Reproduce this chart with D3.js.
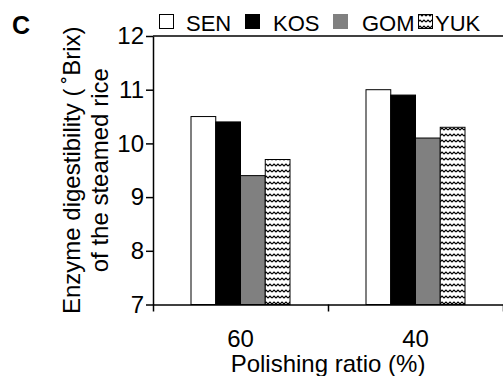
<!DOCTYPE html>
<html>
<head>
<meta charset="utf-8">
<script src="https://cdn.jsdelivr.net/npm/d3@7"></script>
<style>
  body { margin: 0; background: #fff; }
  svg { display: block; font-family: "Liberation Sans", Arial, sans-serif; }
</style>
</head>
<body>
<section></section>
<script>
"use strict";

// chart data
const categories = ["60", "40"];
const series = ["SEN", "KOS", "GOM", "YUK"];
const SEN = [10.5, 11.0];
const KOS = [10.4, 10.9];
const GOM = [9.4, 10.1];
const YUK = [9.7, 10.3];
const yTicks = [7, 8, 9, 10, 11, 12];

const w = 503;
const h = 376;
const plotLeft = 153;
const plotRight = 503;
const plotTop = 36;
const plotBottom = 304.5;
const fontSize = 24;

const fills = { SEN: "#fff", KOS: "#000", GOM: "#808080", YUK: "url(#zig)" };
const legendX = [159, 245, 333, 418];
const legendTextDx = [27, 28, 29, 17];

const values = { SEN, KOS, GOM, YUK };
const rows = [];
categories.forEach((c, i) => {
  series.forEach((s) => rows.push({ cat: c, key: s, value: values[s][i] }));
});

const svg = d3.select("section").append("svg").attr("width", w).attr("height", h);

// zigzag pattern for YUK
const pat = svg.append("defs").append("pattern")
  .attr("id", "zig")
  .attr("patternUnits", "userSpaceOnUse")
  .attr("width", 8)
  .attr("height", 6);
pat.append("rect").attr("width", 8).attr("height", 6).attr("fill", "#fff");
pat.append("path")
  .attr("d", "M0,4 L2,2 L4,4 L6,2 L8,4")
  .attr("fill", "none")
  .attr("stroke", "#000")
  .attr("stroke-width", 1.2);

const x0 = d3.scaleBand().domain(categories).range([plotLeft, plotRight]);
const groupW = 99;
const x1 = d3.scaleBand().domain(series).range([0, groupW]);
const y = d3.scaleLinear().domain([7, 12]).range([plotBottom, plotTop]);

// bars
svg.append("g")
  .selectAll("rect")
  .data(rows)
  .enter()
  .append("rect")
  .attr("x", (d) => x0(d.cat) + (x0.bandwidth() - groupW) / 2 + x1(d.key))
  .attr("y", (d) => y(d.value))
  .attr("width", x1.bandwidth())
  .attr("height", (d) => plotBottom - y(d.value))
  .attr("fill", (d) => fills[d.key])
  .attr("stroke", "#000")
  .attr("stroke-width", 1);

// top frame line
svg.append("line")
  .attr("x1", plotLeft).attr("x2", plotRight)
  .attr("y1", y(12)).attr("y2", y(12))
  .attr("stroke", "#000").attr("stroke-width", 1.5);

// y axis
const yAxisG = svg.append("g")
  .attr("transform", `translate(${plotLeft},0)`)
  .call(d3.axisLeft(y).tickValues(yTicks).tickFormat(d3.format("d")).tickSize(7).tickPadding(2).tickSizeOuter(0));
yAxisG.selectAll("text").attr("font-size", fontSize).attr("font-family", null).attr("fill", "#000");

// x axis: boundary ticks and category labels
const xEdge = d3.scaleLinear().domain([0, categories.length]).range([plotLeft, plotRight]);
svg.append("g")
  .attr("transform", `translate(0,${plotBottom})`)
  .call(d3.axisBottom(xEdge).tickValues(d3.range(categories.length + 1)).tickFormat("").tickSize(7).tickSizeOuter(0));

const xAxisG = svg.append("g")
  .attr("transform", `translate(0,${plotBottom})`)
  .call(d3.axisBottom(x0).tickSize(0).tickPadding(25))
  .call((g) => g.select(".domain").remove());
xAxisG.selectAll("text").attr("font-size", fontSize).attr("font-family", null).attr("fill", "#000");

svg.selectAll(".domain, .tick line").attr("stroke", "#000").attr("stroke-width", 1.5);

// axis titles
svg.append("text")
  .attr("x", (plotLeft + plotRight) / 2)
  .attr("y", 372)
  .attr("text-anchor", "middle")
  .attr("font-size", fontSize)
  .text("Polishing ratio (%)");

const yt = svg.append("text")
  .attr("transform", `translate(80,${(plotTop + plotBottom) / 2}) rotate(-90)`)
  .attr("text-anchor", "middle")
  .attr("font-size", fontSize);
yt.append("tspan").attr("x", 0).attr("y", 0).text("Enzyme digestibility (\u2009\u02daBrix)");
yt.append("tspan").attr("x", 0).attr("y", 28).text("of the steamed rice");

// panel letter
svg.append("text")
  .attr("x", 12)
  .attr("y", 34)
  .attr("font-size", 25)
  .attr("font-weight", "bold")
  .text("C");

// legend
const legend = svg.append("g").selectAll("g")
  .data(series)
  .enter()
  .append("g")
  .attr("transform", (d, i) => `translate(${legendX[i]},0)`);
legend.append("rect")
  .attr("x", 0.5).attr("y", 14.5)
  .attr("width", 14).attr("height", 14)
  .attr("fill", (d) => fills[d])
  .attr("stroke", (d) => (d === "GOM" ? "#808080" : "#000"))
  .attr("stroke-width", 1);
legend.append("text")
  .attr("x", (d, i) => legendTextDx[i])
  .attr("y", 30.5)
  .attr("font-size", 22)
  .text((d) => d);
</script>
</body>
</html>
